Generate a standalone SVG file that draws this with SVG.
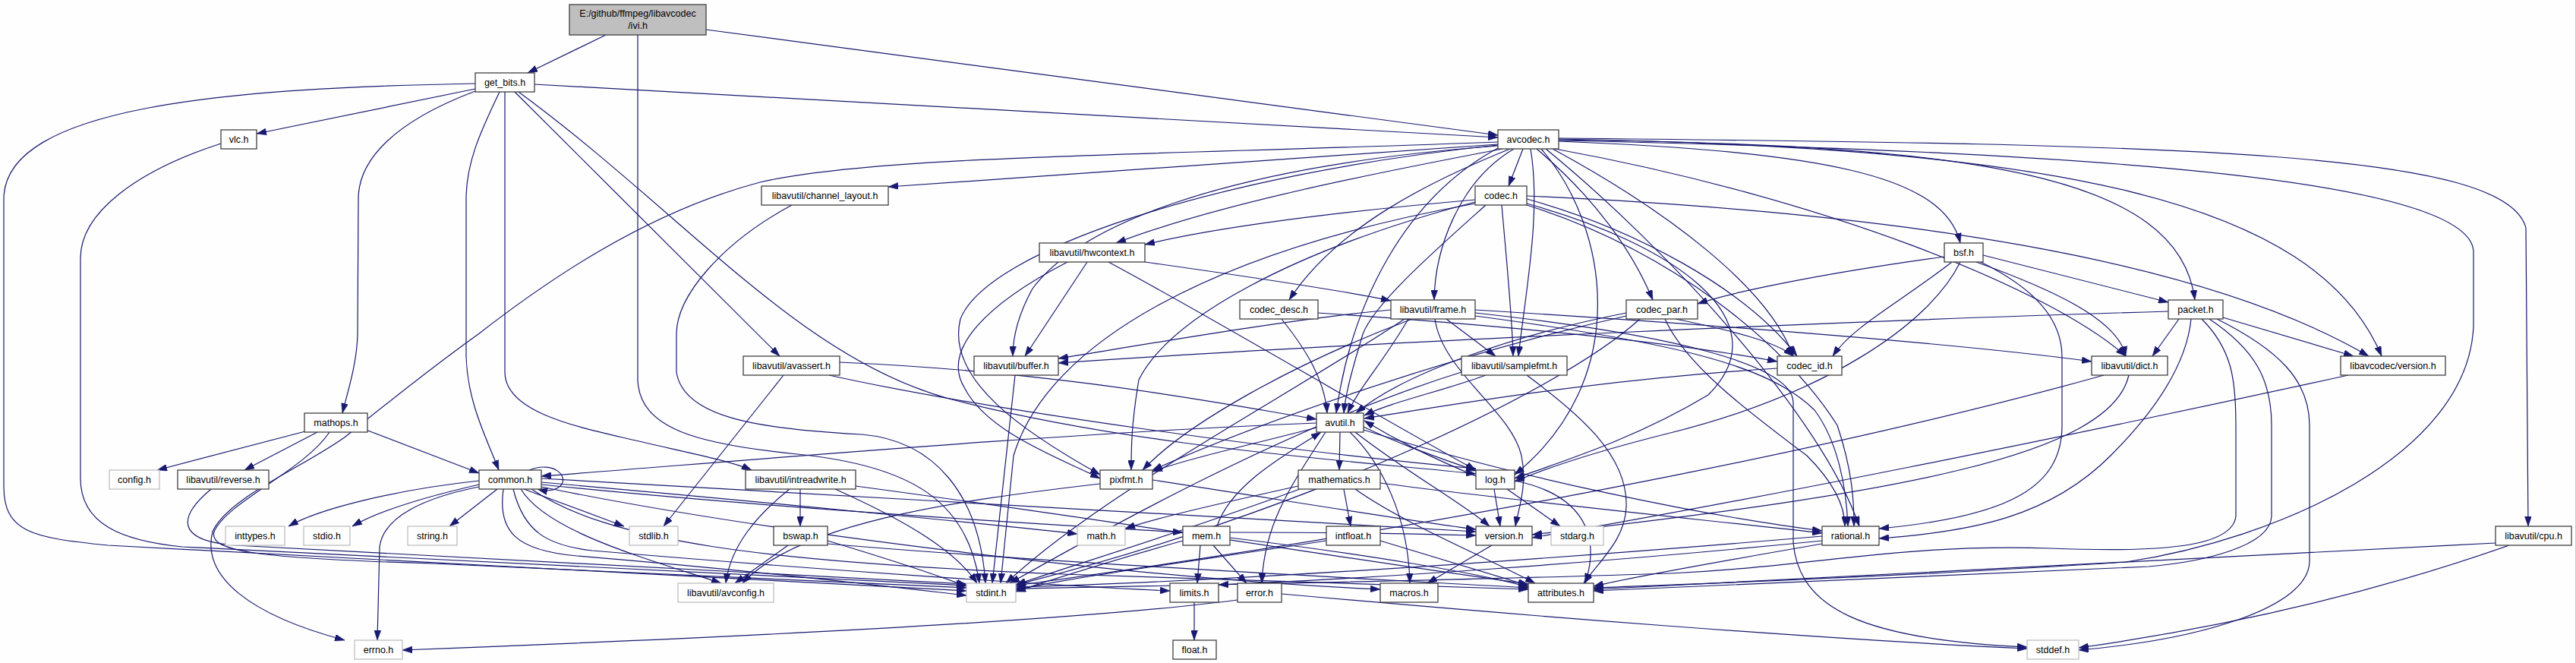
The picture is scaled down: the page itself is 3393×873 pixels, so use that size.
<svg xmlns="http://www.w3.org/2000/svg" width="3393" height="873" viewBox="0 0 3393 873">
<style>
.n rect{fill:#ffffff;stroke:#404040;stroke-width:1.3}
.g rect{fill:#ffffff;stroke:#bfbfbf;stroke-width:1.3}
.r rect{fill:#bfbfbf;stroke:#404040;stroke-width:1.3}
text{font-family:"Liberation Sans",Arial,sans-serif;font-size:12.5px;fill:#000000;text-anchor:middle}
#edges path{fill:none;stroke:#191970;stroke-width:1.2;marker-end:url(#arr)}
</style>
<defs>
<marker id="arr" markerUnits="userSpaceOnUse" markerWidth="13" markerHeight="9" viewBox="0 0 13 9" refX="13" refY="4.5" orient="auto">
<path d="M0,0 L13,4.5 L0,9 z" fill="#191970" stroke="#191970" stroke-width="0.5"/>
</marker>
</defs>
<rect x="0" y="0" width="3393" height="873" fill="#fdfefd"/>
<line x1="3392.5" y1="0" x2="3392.5" y2="873" stroke="#c8c8c8" stroke-width="1"/>
<g id="edges">
<path d="M798,46 L695,96"/>
<path d="M930,39 L1973,178"/>
<path d="M840,46 L840,500 C842,565 920,585 1050,598 C1200,613 1275,660 1290,768"/>
<path d="M704,111 L1973,181"/>
<path d="M626,117 L338,176"/>
<path d="M626,110 C300,116 5,140 5,262 L5,640 C5,700 40,708 142,718 L1273,778"/>
<path d="M626,120 C520,160 472,210 472,262 L471,440 C470,480 458,515 451,544"/>
<path d="M658,121 C632,175 614,215 614,262 L614,470 C616,530 640,575 657,619"/>
<path d="M665,121 L665,490 C665,540 750,560 820,576 C900,595 960,606 990,619"/>
<path d="M678,121 L1027,469"/>
<path d="M683,121 C900,280 1050,470 1250,525 C1500,590 1800,608 1944,624"/>
<path d="M291,189 C180,225 106,280 106,340 L106,630 C106,690 160,712 240,720 L1273,771"/>
<path d="M402,568 L207,619"/>
<path d="M418,569 L322,619"/>
<path d="M482,566 L631,623"/>
<path d="M434,569 C400,620 300,660 282,700 C275,725 330,735 570,742 L1273,774"/>
<path d="M278,644 C235,680 230,712 310,718 L1273,769"/>
<path d="M697,619 C730,606 750,628 738,640 C730,647 720,647 708,644"/>
<path d="M631,633 C520,645 420,670 380,693"/>
<path d="M631,638 C570,652 500,672 464,693"/>
<path d="M655,644 L592,693"/>
<path d="M690,644 L822,693"/>
<path d="M631,641 C560,655 505,680 500,720 L497,843"/>
<path d="M713,635 C1000,660 1300,690 1419,703"/>
<path d="M713,638 C1000,668 1400,692 1558,701"/>
<path d="M663,644 C655,700 680,725 760,732 C1000,752 1150,770 1273,784"/>
<path d="M676,644 C690,700 720,718 780,725 C1100,752 1400,772 1541,778"/>
<path d="M686,644 C720,700 850,735 950,768"/>
<path d="M700,644 C800,712 1000,740 1400,756 C1700,767 1900,771 2013,776"/>
<path d="M713,641 C1000,700 1500,762 1818,776"/>
<path d="M713,630 C1100,650 1700,690 1944,700"/>
<path d="M1734,557 C1400,570 1000,605 713,627"/>
<path d="M1765,569 L1764,619"/>
<path d="M1796,562 C1850,588 1900,604 1944,620"/>
<path d="M1785,569 C1850,620 1930,665 1962,693"/>
<path d="M1778,569 C1820,610 1855,680 1857,768"/>
<path d="M1746,569 C1700,640 1665,690 1662,768"/>
<path d="M1796,566 C2000,630 2250,680 2400,699"/>
<path d="M1734,563 C1650,585 1560,605 1518,621"/>
<path d="M1944,627 C1880,600 1840,580 1797,554"/>
<path d="M1968,644 L1976,693"/>
<path d="M1985,644 L2055,693"/>
<path d="M1995,633 C2080,650 2110,700 2088,768"/>
<path d="M1770,644 L1779,693"/>
<path d="M1710,640 C1620,660 1530,680 1482,696"/>
<path d="M1785,644 C1850,690 1950,730 2022,768"/>
<path d="M1818,636 C2000,660 2250,685 2400,702"/>
<path d="M1712,644 C1560,700 1410,745 1338,770"/>
<path d="M1818,712 L2013,771"/>
<path d="M1747,712 C1550,742 1400,762 1338,777"/>
<path d="M1965,718 L1880,768"/>
<path d="M1449,637 C1250,660 1050,690 978,768"/>
<path d="M1518,632 C1700,660 1850,685 1944,697"/>
<path d="M1581,718 L1577,768"/>
<path d="M1598,718 L1642,768"/>
<path d="M1558,712 C1450,742 1380,765 1338,779"/>
<path d="M1620,708 C1800,730 1950,755 2013,773"/>
<path d="M1603,693 C1620,640 1690,600 1740,569"/>
<path d="M1620,701 C1750,701 1870,703 1944,705"/>
<path d="M1630,790 C1400,820 900,842 530,856"/>
<path d="M1688,782 C2000,810 2400,842 2670,854"/>
<path d="M1573,793 L1573,843"/>
<path d="M2400,706 C2000,740 1600,766 1338,773"/>
<path d="M2400,712 C2100,742 1800,762 1605,770"/>
<path d="M2400,716 C2250,742 2150,760 2099,772"/>
<path d="M1054,644 L1054,693"/>
<path d="M1040,644 C995,680 962,720 956,768"/>
<path d="M1100,644 C1180,680 1255,720 1287,768"/>
<path d="M1127,640 C1500,690 1800,740 2013,769"/>
<path d="M1038,718 L968,768"/>
<path d="M1090,712 C1150,730 1220,752 1273,772"/>
<path d="M1090,716 C1400,742 1800,762 2013,774"/>
<path d="M1032,494 L874,693"/>
<path d="M1106,477 C1400,490 1600,530 1734,552"/>
<path d="M1092,494 C1300,540 1700,595 1944,617"/>
<path d="M1337,494 L1307,768"/>
<path d="M1957,494 C1900,515 1830,530 1797,547"/>
<path d="M2011,494 C2080,545 2145,600 2142,668 C2140,710 2110,735 2086,768"/>
<path d="M1925,490 C1700,560 1450,700 1330,768"/>
<path d="M2341,485 C2100,500 1900,535 1797,551"/>
<path d="M2771,494 C2500,570 2000,680 1338,771"/>
<path d="M2804,494 C2780,600 2500,650 2018,704"/>
<path d="M3093,494 C2700,580 2300,660 2018,708"/>
<path d="M3287,715 C2800,740 2300,765 2099,776"/>
<path d="M3305,718 C3100,790 2900,830 2738,853"/>
<path d="M1043,270 C950,320 891,390 891,440 L891,490 C900,550 1000,565 1135,572 C1230,580 1290,650 1298,768"/>
<path d="M1973,187 C1500,205 1150,205 1001,240 C850,280 720,370 630,440 C560,490 505,535 455,575 C400,615 300,655 280,700 C265,760 330,810 454,843"/>
<path d="M1973,190 C1600,215 1300,235 1170,246"/>
<path d="M1979,196 C1800,230 1600,270 1470,320"/>
<path d="M2006,196 L1987,245"/>
<path d="M1989,196 C1880,240 1760,300 1698,395"/>
<path d="M1994,196 C1920,240 1890,330 1889,395"/>
<path d="M2024,196 C2100,260 2150,330 2177,395"/>
<path d="M2053,186 C2400,200 2560,230 2582,320"/>
<path d="M2053,184 C2600,190 2870,230 2891,395"/>
<path d="M2053,183 C2700,195 3050,260 3137,469"/>
<path d="M2053,182 C2900,190 3300,200 3327,300 L3330,693"/>
<path d="M2053,185 C2800,200 3250,240 3258,330 L3258,430 C3250,600 3000,710 2800,740 C2500,760 2200,770 2099,774"/>
<path d="M2016,196 C2030,280 2010,380 2000,469"/>
<path d="M1975,194 C1850,260 1780,400 1760,544"/>
<path d="M1973,192 C1600,220 1420,300 1360,380 C1338,420 1334,450 1334,469"/>
<path d="M1973,191 C1600,230 1300,330 1265,420 C1245,500 1350,570 1449,625"/>
<path d="M2030,196 C2120,300 2150,500 1995,625"/>
<path d="M2036,196 C2200,330 2400,550 2449,693"/>
<path d="M2048,196 C2400,260 2700,380 2800,469"/>
<path d="M2045,196 C2200,280 2330,380 2362,469"/>
<path d="M1943,263 C1750,280 1600,300 1508,322"/>
<path d="M1957,270 C1890,330 1810,400 1795,440 C1780,490 1772,520 1770,544"/>
<path d="M1978,270 C1985,350 1992,420 1993,469"/>
<path d="M1943,268 C1600,330 1380,450 1335,600 L1318,768"/>
<path d="M1943,266 C1700,330 1540,420 1500,500 C1490,560 1490,590 1490,619"/>
<path d="M2011,268 C2200,320 2350,420 2250,520 C2150,580 2050,610 1995,630"/>
<path d="M2011,270 C2200,330 2350,450 2420,560 C2440,620 2442,660 2442,693"/>
<path d="M2011,262 C2150,300 2300,380 2367,469"/>
<path d="M2011,258 C2500,280 2900,340 3120,469"/>
<path d="M1688,420 C1720,460 1745,500 1748,544"/>
<path d="M1736,412 C2000,430 2200,450 2341,476"/>
<path d="M1943,412 C2200,440 2362,480 2362,530 L2362,715 C2370,800 2450,842 2670,852"/>
<path d="M1850,420 C1700,520 1450,650 1325,768"/>
<path d="M1855,420 C1820,480 1790,510 1775,544"/>
<path d="M1832,408 C1700,420 1500,455 1394,472"/>
<path d="M1943,408 C2300,430 2600,455 2755,476"/>
<path d="M1943,416 C2200,450 2330,480 2390,540 C2420,580 2432,640 2434,693"/>
<path d="M1905,420 L1970,469"/>
<path d="M1860,420 C1700,480 1560,560 1505,619"/>
<path d="M1890,420 C1900,490 1990,540 2004,600 C2012,640 2000,670 1996,693"/>
<path d="M1432,345 L1350,469"/>
<path d="M1508,345 C1650,365 1780,385 1832,396"/>
<path d="M1460,345 C1600,420 1800,540 1944,619"/>
<path d="M1406,345 C1300,400 1240,460 1270,510 C1300,570 1400,605 1449,630"/>
<path d="M2142,412 C2000,440 1850,490 1786,544"/>
<path d="M2142,416 C1900,470 1650,560 1518,619"/>
<path d="M2207,420 C2280,435 2340,450 2362,469"/>
<path d="M2193,420 C2220,480 2300,540 2380,600 C2420,640 2430,670 2430,693"/>
<path d="M2160,420 C2050,520 1700,680 1338,770"/>
<path d="M2561,338 C2400,360 2280,385 2236,400"/>
<path d="M2571,345 C2500,400 2440,430 2414,469"/>
<path d="M2582,345 C2540,430 2400,520 2200,570 C2100,595 2040,615 1995,634"/>
<path d="M2609,345 C2680,380 2716,420 2716,470 L2716,560 C2716,640 2650,680 2475,696"/>
<path d="M2603,345 C2700,380 2790,420 2800,469"/>
<path d="M2612,336 L2856,398"/>
<path d="M2920,420 C3000,460 3042,500 3042,560 L3042,740 C3040,800 2900,842 2738,856"/>
<path d="M2910,420 C2970,460 2992,500 2992,560 L2992,680 C2990,720 2900,740 2830,746 C2500,760 2200,774 2099,778"/>
<path d="M2900,420 C2940,460 2945,500 2945,560 L2945,680 C2940,720 2850,728 2700,722 C2500,716 2400,745 2200,755 C1900,765 1500,772 1338,775"/>
<path d="M2886,420 C2880,480 2840,540 2780,600 C2700,680 2600,700 2475,709"/>
<path d="M2870,420 L2835,469"/>
<path d="M2856,410 C2500,420 1800,450 1394,478"/>
<path d="M2928,418 L3100,469"/>
</g>
<g id="ivi" class="r"><rect x="750" y="6" width="180" height="40"/><text x="840" y="22">E:/github/ffmpeg/libavcodec</text><text x="840" y="38">/ivi.h</text></g>
<g id="get_bits" class="n"><rect x="626" y="96" width="78" height="25"/><text x="665" y="113">get_bits.h</text></g>
<g id="vlc" class="n"><rect x="291" y="171" width="47" height="25"/><text x="314.5" y="188">vlc.h</text></g>
<g id="avcodec" class="n"><rect x="1973" y="171" width="80" height="25"/><text x="2013" y="188">avcodec.h</text></g>
<g id="channel_layout" class="n"><rect x="1003" y="245" width="167" height="25"/><text x="1086.5" y="262">libavutil/channel_layout.h</text></g>
<g id="codec" class="n"><rect x="1943" y="245" width="68" height="25"/><text x="1977" y="262">codec.h</text></g>
<g id="hwcontext" class="n"><rect x="1369" y="320" width="139" height="25"/><text x="1438.5" y="337">libavutil/hwcontext.h</text></g>
<g id="bsf" class="n"><rect x="2561" y="320" width="51" height="25"/><text x="2586.5" y="337">bsf.h</text></g>
<g id="codec_desc" class="n"><rect x="1633" y="395" width="103" height="25"/><text x="1684.5" y="412">codec_desc.h</text></g>
<g id="frame" class="n"><rect x="1832" y="395" width="111" height="25"/><text x="1887.5" y="412">libavutil/frame.h</text></g>
<g id="codec_par" class="n"><rect x="2142" y="395" width="94" height="25"/><text x="2189" y="412">codec_par.h</text></g>
<g id="packet" class="n"><rect x="2856" y="395" width="72" height="25"/><text x="2892" y="412">packet.h</text></g>
<g id="avassert" class="n"><rect x="979" y="469" width="127" height="25"/><text x="1042.5" y="486">libavutil/avassert.h</text></g>
<g id="buffer" class="n"><rect x="1283" y="469" width="111" height="25"/><text x="1338.5" y="486">libavutil/buffer.h</text></g>
<g id="samplefmt" class="n"><rect x="1925" y="469" width="139" height="25"/><text x="1994.5" y="486">libavutil/samplefmt.h</text></g>
<g id="codec_id" class="n"><rect x="2341" y="469" width="85" height="25"/><text x="2383.5" y="486">codec_id.h</text></g>
<g id="dict" class="n"><rect x="2755" y="469" width="100" height="25"/><text x="2805" y="486">libavutil/dict.h</text></g>
<g id="lavc_version" class="n"><rect x="3083" y="469" width="138" height="25"/><text x="3152" y="486">libavcodec/version.h</text></g>
<g id="mathops" class="n"><rect x="401" y="544" width="83" height="25"/><text x="442.5" y="561">mathops.h</text></g>
<g id="avutil" class="n"><rect x="1734" y="544" width="62" height="25"/><text x="1765" y="561">avutil.h</text></g>
<g id="config" class="g"><rect x="144" y="619" width="66" height="25"/><text x="177" y="636">config.h</text></g>
<g id="reverse" class="n"><rect x="234" y="619" width="120" height="25"/><text x="294" y="636">libavutil/reverse.h</text></g>
<g id="common" class="n"><rect x="631" y="619" width="82" height="25"/><text x="672" y="636">common.h</text></g>
<g id="intreadwrite" class="n"><rect x="982" y="619" width="145" height="25"/><text x="1054.5" y="636">libavutil/intreadwrite.h</text></g>
<g id="pixfmt" class="n"><rect x="1449" y="619" width="69" height="25"/><text x="1483.5" y="636">pixfmt.h</text></g>
<g id="mathematics" class="n"><rect x="1710" y="619" width="108" height="25"/><text x="1764" y="636">mathematics.h</text></g>
<g id="log" class="n"><rect x="1944" y="619" width="51" height="25"/><text x="1969.5" y="636">log.h</text></g>
<g id="inttypes" class="g"><rect x="297" y="693" width="78" height="25"/><text x="336" y="710">inttypes.h</text></g>
<g id="stdio" class="g"><rect x="400" y="693" width="61" height="25"/><text x="430.5" y="710">stdio.h</text></g>
<g id="string" class="g"><rect x="537" y="693" width="65" height="25"/><text x="569.5" y="710">string.h</text></g>
<g id="stdlib" class="g"><rect x="829" y="693" width="64" height="25"/><text x="861" y="710">stdlib.h</text></g>
<g id="bswap" class="n"><rect x="1019" y="693" width="71" height="25"/><text x="1054.5" y="710">bswap.h</text></g>
<g id="math" class="g"><rect x="1419" y="693" width="63" height="25"/><text x="1450.5" y="710">math.h</text></g>
<g id="mem" class="n"><rect x="1558" y="693" width="62" height="25"/><text x="1589" y="710">mem.h</text></g>
<g id="intfloat" class="n"><rect x="1747" y="693" width="71" height="25"/><text x="1782.5" y="710">intfloat.h</text></g>
<g id="version" class="n"><rect x="1944" y="693" width="74" height="25"/><text x="1981" y="710">version.h</text></g>
<g id="stdarg" class="g"><rect x="2043" y="693" width="69" height="25"/><text x="2077.5" y="710">stdarg.h</text></g>
<g id="rational" class="n"><rect x="2400" y="693" width="75" height="25"/><text x="2437.5" y="710">rational.h</text></g>
<g id="cpu" class="n"><rect x="3287" y="693" width="100" height="25"/><text x="3337" y="710">libavutil/cpu.h</text></g>
<g id="avconfig" class="g"><rect x="893" y="768" width="126" height="25"/><text x="956" y="785">libavutil/avconfig.h</text></g>
<g id="stdint" class="g"><rect x="1273" y="768" width="65" height="25"/><text x="1305.5" y="785">stdint.h</text></g>
<g id="limits" class="n"><rect x="1541" y="768" width="64" height="25"/><text x="1573" y="785">limits.h</text></g>
<g id="error" class="n"><rect x="1630" y="768" width="58" height="25"/><text x="1659" y="785">error.h</text></g>
<g id="macros" class="n"><rect x="1818" y="768" width="76" height="25"/><text x="1856" y="785">macros.h</text></g>
<g id="attributes" class="n"><rect x="2013" y="768" width="86" height="25"/><text x="2056" y="785">attributes.h</text></g>
<g id="errno" class="g"><rect x="467" y="843" width="63" height="25"/><text x="498.5" y="860">errno.h</text></g>
<g id="float" class="n"><rect x="1545" y="843" width="57" height="25"/><text x="1573.5" y="860">float.h</text></g>
<g id="stddef" class="g"><rect x="2670" y="843" width="68" height="25"/><text x="2704" y="860">stddef.h</text></g>
</svg>
